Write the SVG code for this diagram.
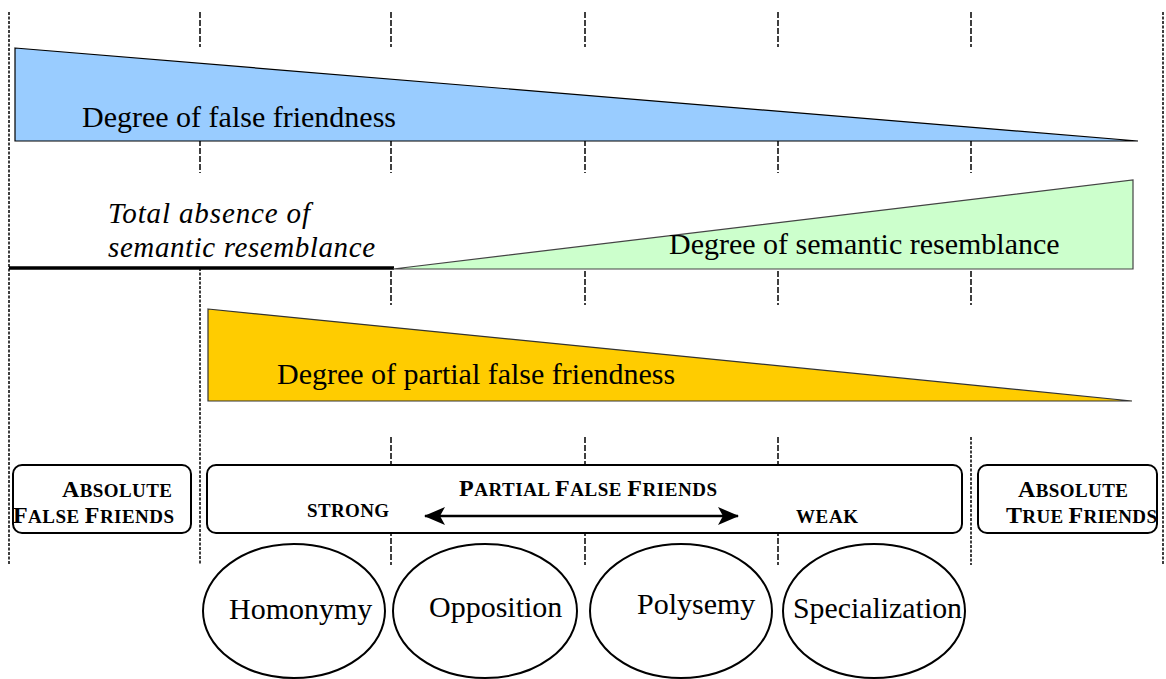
<svg xmlns="http://www.w3.org/2000/svg" width="1166" height="679" viewBox="0 0 1166 679" font-family="'Liberation Serif', 'DejaVu Serif', serif">
<style>
  text { font-family: "Liberation Serif", "DejaVu Serif", serif; fill: #000; }
  .big { font-size: 30px; }
  .ital { font-size: 29px; font-style: italic; }
  .sc { font-weight: bold; font-size: 19px; }
  .cap { font-size: 24px; }
  .dash { stroke: #000; stroke-width: 1.5; stroke-dasharray: 6 2; fill: none; }
  .edge { stroke: #000; stroke-width: 1.5; stroke-dasharray: 3 1.5; fill: none; }
  .box { fill: #fff; stroke: #000; stroke-width: 2; }
  .ell { fill: #fff; stroke: #000; stroke-width: 2; }
</style>
<defs>
  <marker id="ah" markerWidth="22" markerHeight="20" refX="20" refY="10" orient="auto-start-reverse" markerUnits="userSpaceOnUse" viewBox="0 0 22 20">
    <path d="M0,1 L21,10 L0,19 L5,10 Z" fill="#000"/>
  </marker>
</defs>
<rect width="1166" height="679" fill="#fff"/>

<g id="gridlines">
  <line class="edge" x1="9" y1="12" x2="9" y2="565"/>
  <line class="edge" x1="1163" y1="12" x2="1163" y2="565"/>
  <line class="dash" x1="200" y1="12" x2="200" y2="47"/>
  <line class="dash" x1="200" y1="140" x2="200" y2="173"/>
  <line class="edge" x1="200" y1="268" x2="200" y2="565"/>
  <g id="col391">
    <line class="dash" x1="391" y1="12" x2="391" y2="47"/>
    <line class="dash" x1="391" y1="140" x2="391" y2="173"/>
    <line class="dash" x1="391" y1="271" x2="391" y2="305"/>
    <line class="dash" x1="391" y1="437" x2="391" y2="470"/>
    <line class="dash" x1="391" y1="530" x2="391" y2="565"/>
  </g>
  <g id="col585">
    <line class="dash" x1="585" y1="12" x2="585" y2="47"/>
    <line class="dash" x1="585" y1="140" x2="585" y2="173"/>
    <line class="dash" x1="585" y1="271" x2="585" y2="305"/>
    <line class="dash" x1="585" y1="437" x2="585" y2="470"/>
    <line class="dash" x1="585" y1="530" x2="585" y2="565"/>
  </g>
  <g id="col778">
    <line class="dash" x1="778" y1="12" x2="778" y2="47"/>
    <line class="dash" x1="778" y1="140" x2="778" y2="173"/>
    <line class="dash" x1="778" y1="271" x2="778" y2="305"/>
    <line class="dash" x1="778" y1="437" x2="778" y2="470"/>
    <line class="dash" x1="778" y1="530" x2="778" y2="565"/>
  </g>
  <g id="col971">
    <line class="dash" x1="971" y1="12" x2="971" y2="47"/>
    <line class="dash" x1="971" y1="140" x2="971" y2="173"/>
    <line class="dash" x1="971" y1="271" x2="971" y2="305"/>
    <line class="edge" x1="971" y1="437" x2="971" y2="565"/>
  </g>
</g>

<g id="false-friendness">
  <polygon points="15,48 1138,141 15,141" fill="#99ccff" stroke="#000" stroke-width="1.2"/>
  <text class="big" x="82" y="127">Degree of false friendness</text>
</g>

<g id="absence">
  <line x1="9" y1="268" x2="394" y2="268" stroke="#000" stroke-width="3.5"/>
  <text class="ital" x="108" y="223" textLength="202" lengthAdjust="spacing">Total absence of</text>
  <text class="ital" x="108" y="257" textLength="267" lengthAdjust="spacing">semantic resemblance</text>
</g>

<g id="semantic-resemblance">
  <polygon points="393,269 1133,180 1133,269" fill="#ccffcc" stroke="#444" stroke-width="1.2"/>
  <text class="big" x="669" y="254">Degree of semantic resemblance</text>
</g>

<g id="partial-friendness">
  <polygon points="208,309 1132,401 208,401" fill="#ffcc00" stroke="#333" stroke-width="1.2"/>
  <text class="big" x="277" y="384">Degree of partial false friendness</text>
</g>

<g id="absolute-false">
  <rect class="box" x="13" y="465" width="178" height="68" rx="9"/>
  <text class="sc" x="62" y="497" textLength="110" lengthAdjust="spacing"><tspan class="cap">A</tspan>BSOLUTE</text>
  <text class="sc" x="13" y="523" textLength="161" lengthAdjust="spacing"><tspan class="cap">F</tspan>ALSE <tspan class="cap">F</tspan>RIENDS</text>
</g>

<g id="partial-false">
  <rect class="box" x="207" y="465" width="755" height="68" rx="9"/>
  <text class="sc" x="459" y="496" textLength="258" lengthAdjust="spacing"><tspan class="cap">P</tspan>ARTIAL <tspan class="cap">F</tspan>ALSE <tspan class="cap">F</tspan>RIENDS</text>
  <text class="sc" x="307" y="517" textLength="82" lengthAdjust="spacing">STRONG</text>
  <text class="sc" x="796" y="523" textLength="62" lengthAdjust="spacing">WEAK</text>
</g>

<g id="absolute-true">
  <rect class="box" x="978" y="465" width="179" height="68" rx="9"/>
  <text class="sc" x="1018" y="497" textLength="110" lengthAdjust="spacing"><tspan class="cap">A</tspan>BSOLUTE</text>
  <text class="sc" x="1006" y="523" textLength="151" lengthAdjust="spacing"><tspan class="cap">T</tspan>RUE <tspan class="cap">F</tspan>RIENDS</text>
</g>

<g id="connectors">
  <line x1="425" y1="516" x2="738" y2="516" stroke="#000" stroke-width="2.5" marker-start="url(#ah)" marker-end="url(#ah)"/>
</g>

<g id="homonymy">
  <ellipse class="ell" cx="294" cy="611" rx="91" ry="67"/>
  <text class="big" x="229" y="619">Homonymy</text>
</g>
<g id="opposition">
  <ellipse class="ell" cx="485" cy="611" rx="92" ry="67"/>
  <text class="big" x="429" y="617">Opposition</text>
</g>
<g id="polysemy">
  <ellipse class="ell" cx="681" cy="611" rx="91" ry="67"/>
  <text class="big" x="637" y="614">Polysemy</text>
</g>
<g id="specialization">
  <ellipse class="ell" cx="874" cy="611" rx="91" ry="67"/>
  <text class="big" x="793" y="618" textLength="169" lengthAdjust="spacingAndGlyphs">Specialization</text>
</g>
</svg>
